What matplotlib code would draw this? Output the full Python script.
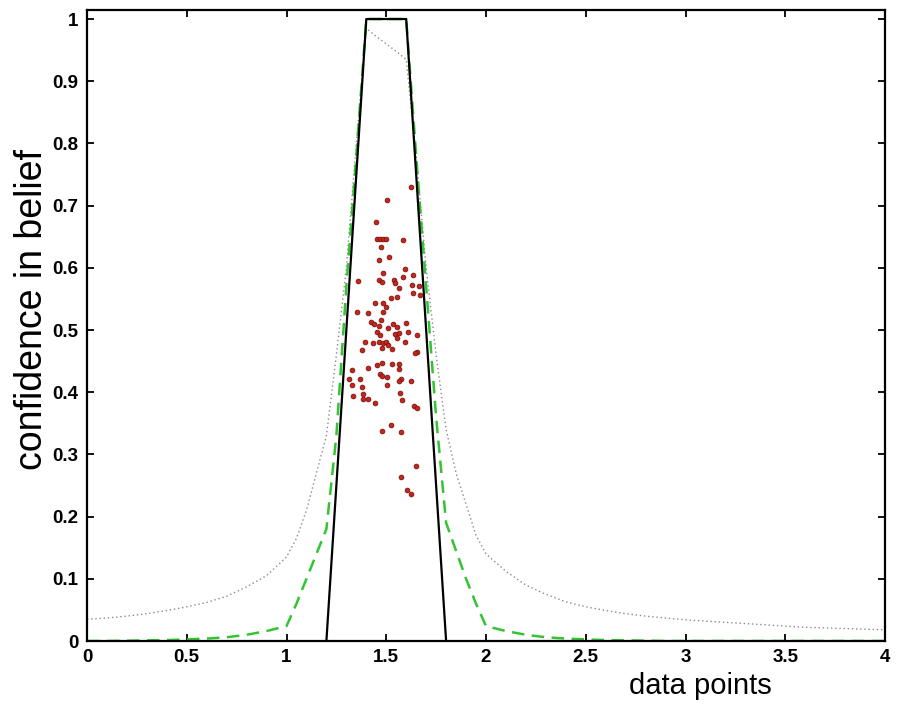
import matplotlib
matplotlib.use("Agg")
import matplotlib.pyplot as plt
import numpy as np

# ---------------- data ----------------
# shared x grid for the two smooth curves
x_grid = [0.0, 0.1, 0.2, 0.3, 0.4, 0.5, 0.6, 0.7, 0.8, 0.9,
          1.0, 1.05, 1.1, 1.15, 1.2, 1.25, 1.3, 1.35, 1.4, 1.45,
          1.5, 1.55, 1.6, 1.65, 1.7, 1.75, 1.8, 1.85, 1.9, 1.95,
          2.0, 2.1, 2.2, 2.3, 2.4, 2.5, 2.6, 2.7, 2.8, 2.9,
          3.0, 3.2, 3.4, 3.6, 3.8, 4.0]

# green dashed curve
green_vals = [0.0, 0.0, 0.0005, 0.001, 0.0015, 0.0025, 0.004, 0.006, 0.01, 0.016,
              0.024, 0.06, 0.10, 0.14, 0.18, 0.33, 0.57, 0.78, 1.0, 1.0,
              1.0, 1.0, 1.0, 0.78, 0.57, 0.36, 0.19, 0.145, 0.10, 0.06,
              0.024, 0.016, 0.01, 0.006, 0.004, 0.0025, 0.0015, 0.001, 0.0005, 0.0,
              0.0, 0.0, 0.0, 0.0, 0.0, 0.0]

# gray dotted curve
dotted_vals = [0.035, 0.037, 0.040, 0.044, 0.049, 0.055, 0.062, 0.072, 0.087, 0.105,
               0.135, 0.165, 0.21, 0.27, 0.33, 0.46, 0.60, 0.80, 0.985, 0.972,
               0.960, 0.948, 0.935, 0.78, 0.60, 0.46, 0.34, 0.27, 0.22, 0.17,
               0.14, 0.112, 0.090, 0.075, 0.063, 0.055, 0.049, 0.044, 0.040, 0.037,
               0.034, 0.030, 0.026, 0.022, 0.020, 0.018]

# black trapezoid
trap_x = [1.2, 1.4, 1.6, 1.8]
trap_y = [0.0, 1.0, 1.0, 0.0]

# red samples
pts_x = [1.624, 1.505, 1.449, 1.455, 1.469, 1.485, 1.499, 1.582, 1.472, 1.515,
         1.465, 1.485, 1.592, 1.633, 1.357, 1.462, 1.479, 1.540, 1.544, 1.562,
         1.586, 1.629, 1.663, 1.669, 1.633, 1.445, 1.485, 1.522, 1.552, 1.499,
         1.355, 1.410, 1.485, 1.472, 1.424, 1.439, 1.465, 1.452, 1.469, 1.507,
         1.532, 1.555, 1.599, 1.542, 1.566, 1.611, 1.656, 1.395, 1.435, 1.462,
         1.482, 1.499, 1.510, 1.527, 1.552, 1.592, 1.380, 1.479, 1.653, 1.644,
         1.327, 1.407, 1.455, 1.479, 1.527, 1.562, 1.566, 1.469, 1.479, 1.502,
         1.315, 1.368, 1.574, 1.562, 1.622, 1.328, 1.377, 1.502, 1.335, 1.385,
         1.569, 1.382, 1.410, 1.444, 1.577, 1.639, 1.653, 1.477, 1.522, 1.572,
         1.651, 1.572, 1.602, 1.622]
pts_y = [0.730, 0.709, 0.673, 0.647, 0.646, 0.646, 0.646, 0.645, 0.633, 0.617,
         0.613, 0.592, 0.598, 0.588, 0.579, 0.580, 0.577, 0.581, 0.575, 0.567,
         0.585, 0.573, 0.571, 0.556, 0.560, 0.544, 0.544, 0.551, 0.553, 0.537,
         0.529, 0.528, 0.529, 0.516, 0.513, 0.510, 0.506, 0.497, 0.492, 0.504,
         0.510, 0.505, 0.511, 0.493, 0.495, 0.496, 0.492, 0.481, 0.479, 0.480,
         0.479, 0.481, 0.476, 0.469, 0.487, 0.480, 0.468, 0.471, 0.465, 0.463,
         0.436, 0.439, 0.444, 0.447, 0.446, 0.445, 0.438, 0.430, 0.426, 0.425,
         0.422, 0.422, 0.422, 0.418, 0.418, 0.412, 0.408, 0.412, 0.394, 0.397,
         0.398, 0.389, 0.389, 0.382, 0.387, 0.378, 0.375, 0.338, 0.348, 0.336,
         0.282, 0.263, 0.243, 0.237]

x_ticks = [0, 0.5, 1, 1.5, 2, 2.5, 3, 3.5, 4]
x_tick_labels = ["0", "0.5", "1", "1.5", "2", "2.5", "3", "3.5", "4"]
y_ticks = [0, 0.1, 0.2, 0.3, 0.4, 0.5, 0.6, 0.7, 0.8, 0.9, 1]
y_tick_labels = ["0", "0.1", "0.2", "0.3", "0.4", "0.5", "0.6", "0.7", "0.8", "0.9", "1"]

# ---------------- plot ----------------
plt.rcParams["font.family"] = ["Liberation Sans", "DejaVu Sans"]

fig = plt.figure(figsize=(8.99, 7.11), dpi=100)
ax = fig.add_axes([87 / 899, 1 - 641 / 711, 798 / 899, 631 / 711])

ax.plot(x_grid, dotted_vals, linestyle=(0, (1, 2)), color="#8a8a8a", linewidth=1.0)
ax.plot(x_grid, green_vals, linestyle=(0, (5, 3)), color="#33c433", linewidth=1.8)
ax.plot(trap_x, trap_y, color="black", linewidth=1.6)
ax.plot(pts_x, pts_y, linestyle="none", marker="o", markersize=3.4,
        markerfacecolor="#c4261c", markeredgecolor="#7a1410", markeredgewidth=0.6)

ax.set_xlim(0, 4)
ax.set_ylim(0, 1.0145)
ax.set_xticks(x_ticks)
ax.set_xticklabels(x_tick_labels)
ax.set_yticks(y_ticks)
ax.set_yticklabels(y_tick_labels)
ax.tick_params(direction="in", length=5, width=1.3, top=True, right=True,
               labelsize=13.5, pad=6)
for lab in ax.get_xticklabels() + ax.get_yticklabels():
    lab.set_fontweight("bold")
for sp in ax.spines.values():
    sp.set_linewidth(1.6)

ax.set_xlabel("data points", fontsize=21, va="center")
ax.xaxis.set_label_coords(0.769, -0.072)
ax.set_ylabel("confidence in belief", fontsize=27, va="center")
ax.yaxis.set_label_coords(-0.069, 0.525)

fig.savefig("out.png", dpi=100)
plt.close(fig)
